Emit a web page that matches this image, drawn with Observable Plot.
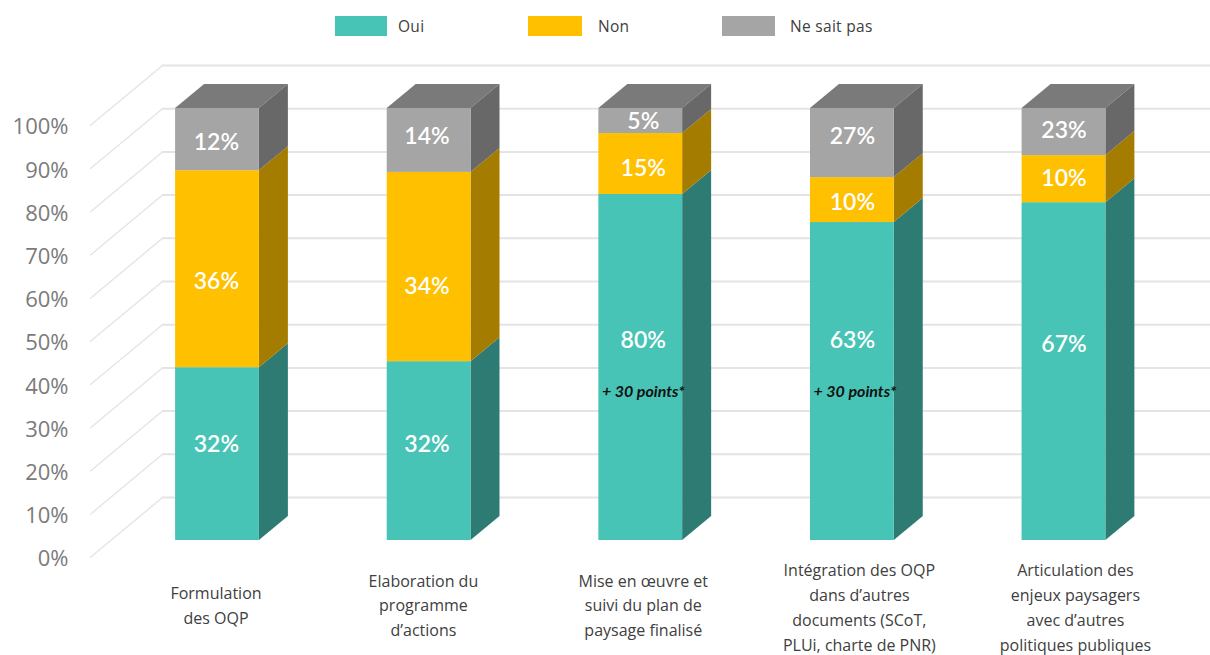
<!DOCTYPE html>
<html lang="fr">
<head>
<meta charset="utf-8">
<script src="https://cdn.jsdelivr.net/npm/d3@7"></script>
<script src="https://cdn.jsdelivr.net/npm/@observablehq/plot@0.6"></script>
<style>
  html, body { margin: 0; padding: 0; background: #fff; overflow: hidden; }
  #legend { position: relative; height: 50px; width: 1210px; font: 15.5px "Open Sans", sans-serif; color: #404040; }
  #legend i { position: absolute; top: 16px; height: 20px; display: block; }
  #legend span { position: absolute; top: 15px; line-height: 22px; letter-spacing: .3px; }
  svg { display: block; }
</style>
</head>
<body>
<div id="legend"></div>
<div id="chart"></div>
<script>
// Categories
const categories = [
  "Formulation\ndes OQP",
  "Elaboration du\nprogramme\nd’actions",
  "Mise en œuvre et\nsuivi du plan de\npaysage finalisé",
  "Intégration des OQP\ndans d’autres\ndocuments (SCoT,\nPLUi, charte de PNR)",
  "Articulation des\nenjeux paysagers\navec d’autres\npolitiques publiques"
];
// Drawn height of each segment (% of the axis)
const oui = [40.0, 41.4, 80.1, 73.6, 78.2];
const non = [45.6, 43.8, 14.1, 10.4, 10.9];
const nsp = [14.4, 14.8, 5.8, 16.0, 10.9];
// Printed labels
const ouiLabels = ["32%", "32%", "80%", "63%", "67%"];
const nonLabels = ["36%", "34%", "15%", "10%", "10%"];
const nspLabels = ["12%", "14%", "5%", "27%", "23%"];
// Height on the axis where each printed label sits
const ouiLabelAt = [22.5, 22.5, 46.5, 46.5, 45.6];
const nonLabelAt = [60.2, 59.0, 86.3, 78.5, 84.0];
const nspLabelAt = [92.4, 93.8, 97.2, 93.8, 95.1];
const notes = [{i: 2, text: "+ 30 points*"}, {i: 3, text: "+ 30 points*"}];
const noteAt = 34.4;
const yTicks = [0, 10, 20, 30, 40, 50, 60, 70, 80, 90, 100];
const seriesNames = ["Oui", "Non", "Ne sait pas"];
const colors = ["#47c4b6", "#ffc000", "#a5a5a5"];
const sideColors = ["#2e7b73", "#a47c00", "#686868"];
const topColor = "#7a7a7a";
const gridColor = "#e4e4e4";
const legendLayout = [[335, 52, 398], [528, 54, 598], [722, 53, 790]];

// Projection in scale units
const halfW = 0.198, depthX = 0.137, depthY = 5.55;
const wallUp = 9.95, frontDown = -3.9;
const axisLeft = -0.6, wallX = -0.26, chartEnd = 4.7, tickLabelX = -0.704;
const catShift = [-0.007, -0.027, 0.012, 0.033, 0.054];
const catLift = [0.7, 0.7, 0.7, 0.2, 0.2];
const labelShift = [-0.005, -0.01, 0.012, 0, 0];

// Build faces
const series = [oui, non, nsp];
const fronts = [], sides = [];
series.forEach((vals, s) => vals.forEach((v, i) => {
  const base = d3.sum(series.slice(0, s), a => a[i]);
  fronts.push({i, s, x1: i - halfW, x2: i + halfW, y1: base, y2: base + v});
  [0, 1].forEach(k => sides.push({
    id: `${s}-${i}`, s,
    x: i + halfW + k * depthX,
    y1: base + k * depthY,
    y2: base + v + k * depthY
  }));
}));
const tops = categories.flatMap((_, i) => {
  const top = oui[i] + non[i] + nsp[i];
  return [0, 1].map(k => ({
    id: i,
    x1: i - halfW + k * depthX,
    x2: i + halfW + k * depthX,
    y: top + k * depthY
  }));
});
const gridPts = yTicks.flatMap(t => [
  {t, x: axisLeft, y: t + frontDown},
  {t, x: wallX, y: t + wallUp}
]);
const gridFlat = yTicks.flatMap(t => [
  {t, x: wallX, y: t + wallUp},
  {t, x: chartEnd, y: t + wallUp}
]);
const barLabels = [[ouiLabels, ouiLabelAt], [nonLabels, nonLabelAt], [nspLabels, nspLabelAt]]
  .flatMap(([texts, at]) => texts.map((text, i) => ({i, text, y: at[i]})));

const legend = document.getElementById("legend");
seriesNames.forEach((name, k) => {
  const [x, w, tx] = legendLayout[k];
  const sw = document.createElement("i");
  sw.style.cssText = `left:${x}px;width:${w}px;background:${colors[k]}`;
  const lb = document.createElement("span");
  lb.style.left = tx + "px";
  lb.textContent = name;
  legend.append(sw, lb);
});

const plot = Plot.plot({
  width: 1210,
  height: 605,
  margin: 0,
  style: {background: "#fff"},
  x: {axis: null, domain: [0, 4], range: [217, 1063.5]},
  y: {axis: null, domain: [0, 100], range: [490, 58]},
  marks: [
    Plot.line(gridPts, {x: "x", y: "y", z: "t", stroke: gridColor, strokeWidth: 1.3}),
    Plot.line(gridFlat, {x: "x", y: "y", z: "t", stroke: gridColor, strokeWidth: 2}),
    Plot.area(tops, {x1: "x1", x2: "x2", y1: "y", y2: "y", z: "id", fill: topColor}),
    Plot.area(sides, {x1: "x", x2: "x", y1: "y1", y2: "y2", z: "id", fill: d => sideColors[d.s]}),
    Plot.rect(fronts, {x1: "x1", x2: "x2", y1: "y1", y2: "y2", fill: d => colors[d.s], inset: 0}),
    Plot.text(yTicks, {
      x: () => tickLabelX, y: d => d + frontDown, text: d => `${d}%`, dy: 2,
      textAnchor: "end", fontFamily: "Open Sans", fontSize: 22, fill: "#7b7b7b"
    }),
    Plot.text(barLabels, {
      x: d => d.i + labelShift[d.i], y: "y", text: "text", dy: 1,
      fontFamily: "Lato", fontSize: 23, fontWeight: 600, fill: "#fff"
    }),
    Plot.text(notes, {
      x: d => d.i + 0.012, y: () => noteAt, text: "text",
      fontFamily: "Lato", fontSize: 16, fontWeight: 700, fontStyle: "italic", fill: "#111"
    }),
    Plot.text(categories, {
      x: (d, i) => i + catShift[i], y: (d, i) => catLift[i], text: d => d, dy: 66,
      lineAnchor: "middle", lineHeight: 1.55,
      fontFamily: "Open Sans", fontSize: 16, fill: "#404040"
    })
  ]
});
document.getElementById("chart").append(plot);
</script>
</body>
</html>
